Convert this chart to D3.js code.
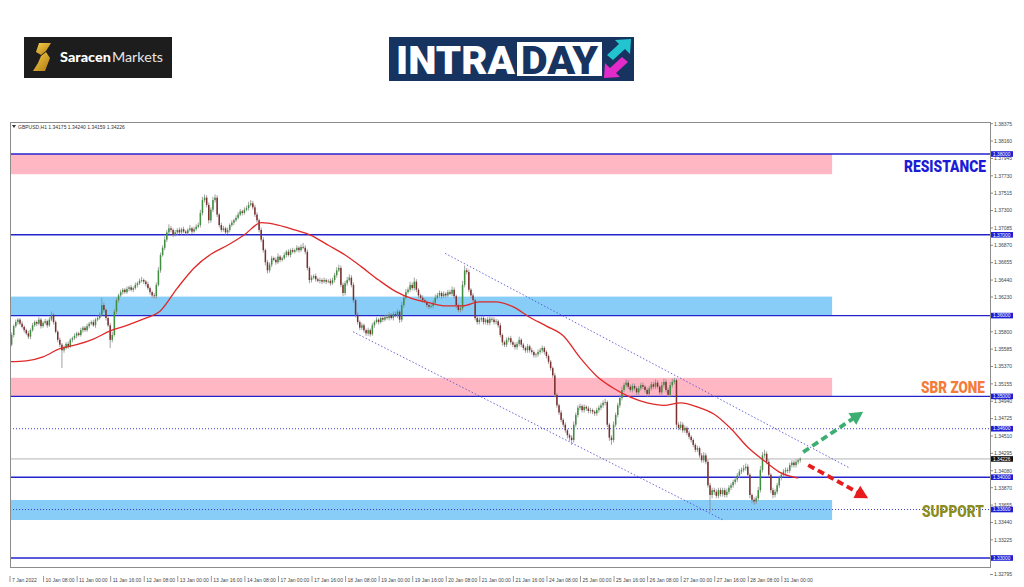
<!DOCTYPE html>
<html><head><meta charset="utf-8">
<script src="https://cdn.jsdelivr.net/npm/d3@7/dist/d3.min.js"></script>
<style>body{margin:0;background:#fff;}svg{display:block;}</style>
</head><body>
<svg id="c" width="1024" height="587"></svg>
<script>
// ---------- DATA ----------
const firstOpen = 1.3545;
const closes = [
1.3564,1.3576,1.3587,1.3592,1.3595,1.3590,1.3586,1.3582,1.3578,1.3574,
1.3582,1.3588,1.3592,1.3590,1.3595,1.3587,1.3591,1.3593,1.3588,1.3595,
1.3601,1.3592,1.3580,1.3570,1.3564,1.3557,1.3560,1.3565,1.3562,1.3570,
1.3572,1.3575,1.3578,1.3576,1.3582,1.3585,1.3582,1.3587,1.3590,1.3592,
1.3588,1.3595,1.3597,1.3601,1.3613,1.3607,1.3597,1.3588,1.3570,1.3576,
1.3605,1.3619,1.3625,1.3629,1.3632,1.3629,1.3633,1.3635,1.3632,1.3634,
1.3638,1.3640,1.3643,1.3644,1.3642,1.3639,1.3634,1.3629,1.3625,1.3624,
1.3638,1.3656,1.3675,1.3684,1.3694,1.3703,1.3708,1.3706,1.3700,1.3703,
1.3706,1.3703,1.3707,1.3704,1.3702,1.3706,1.3708,1.3704,1.3707,1.3710,
1.3712,1.3727,1.3743,1.3746,1.3737,1.3718,1.3731,1.3743,1.3746,1.3725,
1.3712,1.3706,1.3708,1.3703,1.3706,1.3712,1.3715,1.3718,1.3721,1.3725,
1.3729,1.3727,1.3731,1.3733,1.3737,1.3739,1.3734,1.3725,1.3718,1.3706,
1.3694,1.3681,1.3666,1.3656,1.3663,1.3671,1.3669,1.3666,1.3673,1.3669,
1.3671,1.3675,1.3679,1.3675,1.3681,1.3679,1.3681,1.3684,1.3681,1.3685,
1.3684,1.3679,1.3659,1.3644,1.3647,1.3649,1.3645,1.3643,1.3644,1.3642,
1.3644,1.3642,1.3643,1.3640,1.3644,1.3650,1.3656,1.3659,1.3638,1.3628,
1.3640,1.3644,1.3647,1.3638,1.3619,1.3601,1.3592,1.3585,1.3588,1.3582,
1.3578,1.3582,1.3577,1.3588,1.3592,1.3595,1.3592,1.3597,1.3595,1.3598,
1.3597,1.3601,1.3597,1.3602,1.3600,1.3605,1.3595,1.3613,1.3622,1.3629,
1.3632,1.3638,1.3634,1.3642,1.3632,1.3625,1.3622,1.3619,1.3617,1.3613,
1.3611,1.3612,1.3616,1.3622,1.3625,1.3628,1.3624,1.3627,1.3625,1.3629,
1.3627,1.3632,1.3624,1.3613,1.3607,1.3609,1.3638,1.3656,1.3654,1.3632,
1.3625,1.3619,1.3597,1.3592,1.3595,1.3597,1.3592,1.3595,1.3591,1.3596,
1.3595,1.3592,1.3593,1.3588,1.3576,1.3567,1.3564,1.3570,1.3572,1.3567,
1.3564,1.3561,1.3565,1.3570,1.3564,1.3560,1.3557,1.3562,1.3557,1.3555,
1.3551,1.3552,1.3555,1.3557,1.3560,1.3555,1.3550,1.3543,1.3535,1.3526,
1.3502,1.3489,1.3480,1.3471,1.3465,1.3458,1.3452,1.3449,1.3446,1.3465,
1.3477,1.3486,1.3488,1.3483,1.3487,1.3485,1.3482,1.3483,1.3481,1.3479,
1.3483,1.3486,1.3489,1.3492,1.3493,1.3465,1.3449,1.3446,1.3465,1.3477,
1.3489,1.3498,1.3508,1.3514,1.3517,1.3512,1.3508,1.3513,1.3510,1.3505,
1.3510,1.3514,1.3512,1.3508,1.3503,1.3510,1.3515,1.3512,1.3517,1.3512,
1.3505,1.3514,1.3518,1.3508,1.3502,1.3514,1.3518,1.3520,1.3465,1.3461,
1.3465,1.3458,1.3461,1.3455,1.3450,1.3446,1.3440,1.3434,1.3436,1.3427,
1.3421,1.3427,1.3419,1.3390,1.3378,1.3384,1.3382,1.3377,1.3384,1.3379,
1.3384,1.3378,1.3382,1.3387,1.3390,1.3394,1.3397,1.3402,1.3407,1.3409,
1.3411,1.3413,1.3403,1.3378,1.3372,1.3370,1.3374,1.3384,1.3409,1.3427,
1.3429,1.3419,1.3403,1.3384,1.3378,1.3382,1.3390,1.3399,1.3403,1.3407,
1.3409,1.3408,1.3415,1.3418,1.3415,1.3419,1.3421,1.34226];
// upper / lower wick length in pips beyond the candle body
const upWick = [
6,3,2,3,2,2,3,2,2,3, 2,3,2,2,3,2,2,3,2,3, 4,2,2,2,3,2,3,2,3,2, 2,3,2,2,3,2,2,3,2,2,
3,2,3,3,9,3,2,2,3,4, 3,3,2,3,2,2,3,2,3,2, 3,2,3,4,2,2,3,2,2,3, 3,4,3,3,4,3,5,3,2,3,
2,3,2,3,2,2,4,2,3,3, 3,4,4,4,3,3,3,4,4,3, 2,3,3,2,3,2,3,2,3,3, 3,2,3,3,4,4,3,3,3,2,
3,3,2,3,3,3,2,3,4,2, 2,3,2,3,2,3,2,3,2,3, 5,3,3,2,3,2,3,2,3,2, 3,2,2,3,3,3,4,4,3,3,
3,4,4,3,3,2,3,2,3,2, 2,3,2,3,2,3,2,3,2,3, 3,3,2,3,3,3,2,4,3,4, 3,4,3,5,3,2,2,3,2,2,
2,3,3,4,3,3,2,3,2,3, 3,4,3,2,2,3,5,6,3,3, 2,3,2,3,3,2,3,2,3,3, 2,3,3,2,3,2,2,3,2,3,
2,3,3,4,2,2,2,3,2,3, 2,2,3,3,3,2,2,2,2,2, 3,2,2,3,2,3,2,2,3,4, 3,3,3,2,3,2,3,3,2,2,
3,3,3,3,4,2,2,3,4,3, 3,4,4,3,4,3,3,3,3,2, 3,3,3,2,3,3,3,3,4,3, 2,4,4,3,3,4,4,3,2,3,
4,3,3,2,3,2,2,2,3,2, 3,4,3,3,3,3,3,3,3,3, 3,3,4,3,3,3,3,3,3,3, 4,4,3,2,2,3,3,4,5,4,
5,3,3,2,3,3,3,3,3,3, 3,3,3,3,3,3,2,2];
const dnWick = [
10,2,3,2,3,2,2,3,2,3, 3,2,2,3,2,3,2,2,3,2, 2,3,2,3,3,22,3,2,3,2, 3,2,3,2,2,3,2,2,3,2,
2,3,2,2,2,3,3,2,10,3, 2,3,3,2,3,2,2,3,2,3, 2,3,2,2,3,3,2,3,3,3, 3,2,3,2,3,3,2,3,3,2,
3,2,3,2,3,2,2,3,2,2, 2,3,3,3,3,4,3,3,3,3, 3,3,2,3,2,3,2,3,2,2, 2,3,2,2,3,2,3,3,3,3,
3,3,4,4,3,3,2,3,2,3, 2,2,3,2,3,2,2,2,3,2, 2,3,3,4,3,2,3,2,3,3, 2,3,2,3,2,3,3,2,3,4,
3,3,2,3,3,3,3,3,3,3, 3,3,3,2,3,2,3,2,3,2, 2,3,2,3,2,3,4,3,3,2, 2,3,3,3,3,3,2,3,2,3,
3,2,3,3,2,3,3,2,3,2, 2,3,3,4,3,3,3,3,3,3, 3,3,3,3,3,3,3,3,3,3, 3,3,3,3,3,4,3,3,3,3,
3,3,3,3,3,3,3,3,3,3, 3,3,3,3,3,3,3,3,3,3, 3,3,3,3,3,3,4,4,6,3, 3,3,3,3,3,3,3,3,3,3,
3,3,3,3,3,3,4,6,3,3, 3,3,3,3,3,3,3,3,3,3, 3,3,3,3,4,3,3,3,3,3, 3,3,3,3,3,3,3,3,4,3,
3,3,3,3,3,3,3,3,3,3, 3,3,3,3,21,4,4,3,3,3, 3,3,3,3,3,3,3,3,3,3, 3,3,3,4,4,4,3,3,3,3,
3,3,3,4,4,3,3,3,3,3, 3,3,3,3,3,3,3,3];
// moving average (red line), sampled
const maBar = [0,8,16,24,32,40,48,56,64,72,80,88,96,104,112,120,128,136,144,152,160,168,176,184,
192,200,208,216,224,232,240,248,256,264,272,280,288,296,304,312,320,328,336,344,352,360,368,376];
const maVal = [1.3543,1.3544,1.3549,1.3559,1.3564,1.3571,1.3581,1.3588,1.3596,1.3606,1.3634,1.3659,
1.3676,1.3687,1.3700,1.3715,1.3712,1.3706,1.3699,1.3687,1.3675,1.3660,1.3644,1.3630,1.3621,1.3616,
1.3612,1.3612,1.3617,1.3617,1.3611,1.3598,1.3587,1.3575,1.3548,1.3525,1.3510,1.3499,1.3492,1.3489,
1.3492,1.3487,1.3478,1.3460,1.3437,1.3420,1.3405,1.3399];
// price axis
const yTickVals = [1.38375,1.38160,1.37945,1.37730,1.37515,1.37300,1.37085,1.36870,1.36655,1.36440,
1.36230,1.35800,1.35585,1.35370,1.35155,1.34940,1.34725,1.34510,1.34295,1.34080,1.33870,1.33655,
1.33440,1.33225,1.32795];
const yTickLabels = ["1.38375","1.38160","1.37945","1.37730","1.37515","1.37300","1.37085","1.36870",
"1.36655","1.36440","1.36230","1.35800","1.35585","1.35370","1.35155","1.34940","1.34725","1.34510",
"1.34295","1.34080","1.33870","1.33655","1.33440","1.33225","1.32795"];
// time axis
const timeBars = [0,16,32,48,64,80,96,112,128,144,160,176,192,208,224,240,256,272,288,304,320,336,352,368];
const timeLabels = ["7 Jan 2022","10 Jan 08:00","11 Jan 00:00","11 Jan 16:00","12 Jan 08:00","13 Jan 00:00",
"13 Jan 16:00","14 Jan 08:00","17 Jan 00:00","17 Jan 16:00","18 Jan 08:00","19 Jan 00:00","19 Jan 16:00",
"20 Jan 08:00","21 Jan 00:00","21 Jan 16:00","24 Jan 08:00","25 Jan 00:00","25 Jan 16:00","26 Jan 08:00",
"27 Jan 00:00","27 Jan 16:00","28 Jan 08:00","31 Jan 00:00"];
// horizontal levels
const solidLevels = [1.38,1.37,1.36,1.35,1.34,1.33];
const dottedLevels = [1.346,1.336];
const bidPrice = 1.34226;
const labelLevels = [1.38,1.37,1.36,1.35,1.346,1.34,1.336,1.33];
// zones
const zoneTop = [1.3800,1.36235,1.3523,1.33718];
const zoneBottom = [1.3775,1.3600,1.3500,1.3347];
const zoneKind = ["pink","blue","pink","blue"];
const zoneEndBar = 392.2;
// trend channel & arrows (bar index, price)
const channelUpper = [[207.7,1.3677],[400.8,1.3411]];
const channelLower = [[163.8,1.3580],[340.3,1.3347]];
const arrowUp = [[378.4,1.3431],[407,1.3481]];
const arrowDown = [[380.8,1.3415],[409.4,1.3374]];
const zoneTexts = ["RESISTANCE","SBR ZONE","SUPPORT"];
const zoneTextPrice = [1.3785,1.3511,1.3358];
const symbolText = "GBPUSD,H1  1.34175 1.34240 1.34159 1.34226";

// ---------- DRAW ----------
const svg = d3.select("#c");
const L = 10, R = 990, T = 122, B = 567;
const x = d3.scaleLinear().domain([0, 467]).range([9.5, 989]);
const y = d3.scaleLinear().domain([1.33, 1.38]).range([558, 154]);

// text squeezed horizontally to a target width (scale transform instead of textLength)
function fitText(parent, str, x0, yb, width, attrs){
  const t = parent.append("text").attr("x",0).attr("y",0).text(str);
  Object.entries(attrs).forEach(([k,v])=>t.attr(k,v));
  const w = t.node().getComputedTextLength() || width;
  t.attr("transform",`translate(${x0},${yb}) scale(${width/w},1)`);
  return t;
}

svg.append("rect").attr("width",1024).attr("height",587).attr("fill","#fff");

// ---- header logos ----
const lg = svg.append("g");
lg.append("rect").attr("x",24).attr("y",37).attr("width",148).attr("height",41).attr("fill","#1d1d1d");
const gd = svg.append("defs");
const grad = gd.append("linearGradient").attr("id","gold").attr("x1","0").attr("y1","0").attr("x2","1").attr("y2","1");
grad.append("stop").attr("offset","0").attr("stop-color","#f6cf4a");
grad.append("stop").attr("offset","1").attr("stop-color","#b07a12");
lg.append("path").attr("d","M39,43 L51,43 L46,51 L41,55 L36,52 Z").attr("fill","url(#gold)");
lg.append("path").attr("d","M41,56 L46,52 L50,58 L45,71 L33,71 L38,63 Z").attr("fill","url(#gold)");
fitText(lg,"Saracen",60,62,51,{"font-family":"Lato, 'Open Sans', sans-serif","font-weight":"900","font-size":13,"fill":"#fff"});
fitText(lg,"Markets",112,62,51,{"font-family":"Lato, 'Open Sans', sans-serif","font-weight":"400","font-size":13,"fill":"#e6e6e6"});

lg.append("rect").attr("x",389).attr("y",37).attr("width",245).attr("height",44).attr("fill","#17335f");
fitText(lg,"INTRA",396,73.5,119,{"font-family":"Roboto, 'Open Sans', sans-serif","font-weight":"900","font-size":39,"fill":"#fff"});
lg.append("rect").attr("x",517).attr("y",42).attr("width",85).attr("height",34).attr("fill","#fff");
fitText(lg,"DAY",521,73.5,77,{"font-family":"Roboto, 'Open Sans', sans-serif","font-weight":"900","font-size":39,"fill":"#17335f"});
lg.append("path").attr("d","M631,39 L630,54 L625,49 L613,60 L607,55 L619,44 L615,40 Z").attr("fill","#22c4d0");
lg.append("path").attr("d","M604,78 L605,63 L610,68 L622,57 L628,62 L616,73 L620,77 Z").attr("fill","#e22bc8");

// ---- chart area ----
gd.append("clipPath").attr("id","plot").append("rect").attr("x",L).attr("y",T).attr("width",R-L).attr("height",B-T);
const P = svg.append("g").attr("clip-path","url(#plot)");

// zones
P.selectAll("rect.zone").data(zoneTop).join("rect").attr("class","zone")
  .attr("x", x(0)-1).attr("width", x(zoneEndBar)-x(0)+1)
  .attr("y", d=>y(d)).attr("height",(d,i)=>y(zoneBottom[i])-y(d))
  .attr("fill",(d,i)=>zoneKind[i]==="pink"?"#ffb7c3":"#87cdf7");

// bid line
P.append("line").attr("x1",L).attr("x2",R).attr("y1",y(bidPrice)).attr("y2",y(bidPrice))
  .attr("stroke","#b4b4b4").attr("stroke-width",1);
// dotted levels
P.selectAll("line.dl").data(dottedLevels).join("line").attr("class","dl")
  .attr("x1",L).attr("x2",R).attr("y1",d=>y(d)).attr("y2",d=>y(d))
  .attr("stroke","#3c3cd0").attr("stroke-width",1).attr("stroke-dasharray","1,2");
// solid levels
P.selectAll("line.sl").data(solidLevels).join("line").attr("class","sl")
  .attr("x1",L).attr("x2",R).attr("y1",d=>y(d)).attr("y2",d=>y(d))
  .attr("stroke","#2424cc").attr("stroke-width",1.4);
// channel
[channelUpper, channelLower].forEach(c=>{
  P.append("line").attr("x1",x(c[0][0])).attr("y1",y(c[0][1])).attr("x2",x(c[1][0])).attr("y2",y(c[1][1]))
   .attr("stroke","#5656d6").attr("stroke-width",0.9).attr("stroke-dasharray","1.5,2");
});

// candles
const bars = closes.map((c,i)=>{
  const o = i===0 ? firstOpen : closes[i-1];
  return {i, o, c, hi: Math.max(o,c)+upWick[i]*1e-4, lo: Math.min(o,c)-dnWick[i]*1e-4};
});
const cg = P.append("g");
cg.selectAll("line.w").data(bars).join("line").attr("class","w")
  .attr("x1",d=>x(d.i)).attr("x2",d=>x(d.i)).attr("y1",d=>y(d.hi)).attr("y2",d=>y(d.lo))
  .attr("stroke","#8a8a8a").attr("stroke-width",0.8);
cg.selectAll("rect.b").data(bars).join("rect").attr("class","b")
  .attr("x",d=>x(d.i)-0.75).attr("width",1.5)
  .attr("y",d=>y(Math.max(d.o,d.c))).attr("height",d=>Math.max(0.8,Math.abs(y(d.o)-y(d.c))))
  .attr("fill",d=>d.c>=d.o?"#3f8f3f":"#7d2e2e");

// moving average
const ma = maBar.map((b,i)=>[b, maVal[i]]);
P.append("path").datum(ma).attr("fill","none").attr("stroke","#e02828").attr("stroke-width",1.3)
  .attr("d", d3.line().x(d=>x(d[0])).y(d=>y(d[1])).curve(d3.curveMonotoneX));

// arrows
function arrow(pts,color){
  const p0=[x(pts[0][0]),y(pts[0][1])], p1=[x(pts[1][0]),y(pts[1][1])];
  const dx=p1[0]-p0[0], dy=p1[1]-p0[1], len=Math.hypot(dx,dy), ux=dx/len, uy=dy/len;
  const hl=13, hw=7, bx=p1[0]-ux*hl, by=p1[1]-uy*hl;
  P.append("line").attr("x1",p0[0]).attr("y1",p0[1]).attr("x2",bx+ux*2).attr("y2",by+uy*2)
    .attr("stroke",color).attr("stroke-width",3.8).attr("stroke-dasharray","7,4");
  P.append("path").attr("d",`M${p1[0]},${p1[1]} L${bx-uy*hw},${by+ux*hw} L${bx+uy*hw},${by-ux*hw} Z`).attr("fill",color);
}
arrow(arrowUp,"#3dae72");
arrow(arrowDown,"#e81c1c");

// zone texts
const zColors = ["#1c1cd6","#f47b3a","#8c8c1c"];
const zRight = [986,985,984];
const zWidth = [82,64,62];
zoneTexts.forEach((s,i)=>{
  fitText(P, s, zRight[i]-zWidth[i], y(zoneTextPrice[i])+5.8, zWidth[i],
    {"font-family":"Roboto, 'DejaVu Sans', sans-serif","font-weight":"900","font-size":16,"fill":zColors[i]});
});

// symbol text
svg.append("path").attr("d","M12,125 L16,125 L14,128 Z").attr("fill","#333");
fitText(svg, symbolText, 18, 128.5, 107, {"font-family":"'Liberation Sans', Arial, sans-serif","font-size":5,"fill":"#333"});

// frame
svg.append("rect").attr("x",L+0.5).attr("y",T+0.5).attr("width",R-L).attr("height",B-T)
  .attr("fill","none").attr("stroke","#8c8c8c").attr("stroke-width",1);

// price axis
const ax = svg.append("g").attr("font-family","'Liberation Sans', Arial, sans-serif").attr("font-size",5);
ax.selectAll("line.yt").data(yTickVals).join("line").attr("class","yt")
  .attr("x1",R).attr("x2",R+3).attr("y1",d=>y(d)).attr("y2",d=>y(d)).attr("stroke","#888");
ax.selectAll("text.yl").data(yTickVals).join("text").attr("class","yl")
  .attr("x",R+4).attr("y",d=>y(d)+1.8).attr("fill","#444").text((d,i)=>yTickLabels[i]);
ax.selectAll("rect.hl").data(labelLevels).join("rect").attr("class","hl")
  .attr("x",R+1).attr("y",d=>y(d)-2.8).attr("width",22).attr("height",5.6).attr("fill","#1f1fd6");
ax.selectAll("text.hlt").data(labelLevels).join("text").attr("class","hlt")
  .attr("x",R+3).attr("y",d=>y(d)+1.7).attr("font-size",4.8).attr("fill","#fff").text(d=>d.toFixed(5));
ax.append("rect").attr("x",R+1).attr("y",y(bidPrice)-2.8).attr("width",22).attr("height",5.6).attr("fill","#111");
ax.append("text").attr("x",R+3).attr("y",y(bidPrice)+1.7).attr("font-size",4.8).attr("fill","#fff").text(bidPrice.toFixed(5));

// time axis
const tx = svg.append("g").attr("font-family","'Liberation Sans', Arial, sans-serif").attr("font-size",5);
tx.selectAll("line.tt").data(timeBars).join("line").attr("class","tt")
  .attr("x1",d=>x(d)+0.5).attr("x2",d=>x(d)+0.5).attr("y1",576).attr("y2",582).attr("stroke","#999");
tx.selectAll("text.tl").data(timeBars).join("text").attr("class","tl")
  .attr("x",d=>x(d)+2.5).attr("y",582).attr("fill","#444").text((d,i)=>timeLabels[i]);
</script>
</body></html>
